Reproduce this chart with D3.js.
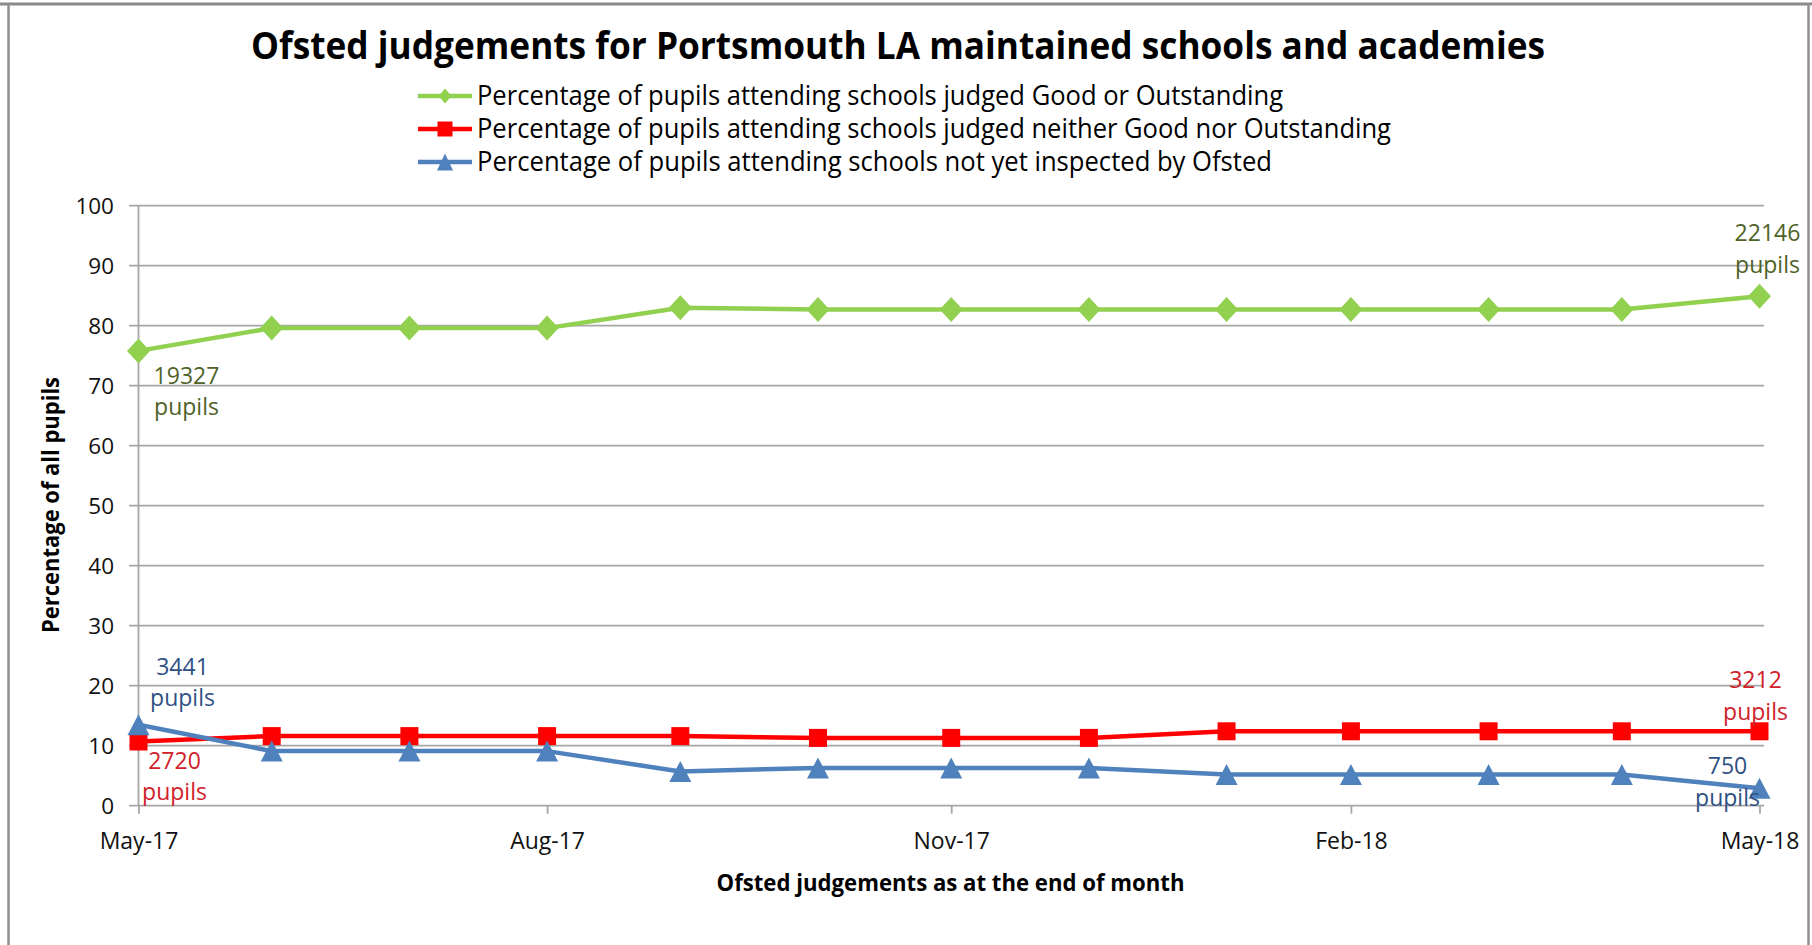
<!DOCTYPE html>
<html>
<head>
<meta charset="utf-8">
<script src="https://cdn.jsdelivr.net/npm/d3@7"></script>
<style>
  html, body { margin: 0; padding: 0; background: #fff; }
  svg { display: block; font-family: "Open Sans", "DejaVu Sans", sans-serif; }
</style>
</head>
<body>
<svg id="chart" width="1812" height="945"></svg>
<script>
// ---------- DATA ----------
const months = ["2017-05-31","2017-06-30","2017-07-31","2017-08-31","2017-09-30","2017-10-31",
                "2017-11-30","2017-12-31","2018-01-31","2018-02-28","2018-03-31","2018-04-30","2018-05-31"];
const goodOrOutstanding = [75.8, 79.6, 79.6, 79.6, 83.0, 82.7, 82.7, 82.7, 82.7, 82.7, 82.7, 82.7, 84.9];
const neitherGood       = [10.7, 11.6, 11.6, 11.6, 11.6, 11.3, 11.3, 11.3, 12.4, 12.4, 12.4, 12.4, 12.4];
const notYetInspected   = [13.5, 9.1, 9.1, 9.1, 5.7, 6.3, 6.3, 6.3, 5.2, 5.2, 5.2, 5.2, 2.9];

const seriesNames = [
  "Percentage of pupils attending schools judged Good or Outstanding",
  "Percentage of pupils attending schools judged neither Good nor Outstanding",
  "Percentage of pupils attending schools not yet inspected by Ofsted"
];
const firstLabels = [["19327","pupils"], ["2720","pupils"], ["3441","pupils"]];
const lastLabels  = [["22146","pupils"], ["3212","pupils"], ["750","pupils"]];

const xTickDates  = ["2017-05-31","2017-08-31","2017-11-30","2018-02-28","2018-05-31"];
const xTickLabels = ["May-17","Aug-17","Nov-17","Feb-18","May-18"];
const yTicks = [0,10,20,30,40,50,60,70,80,90,100];

const titleText = "Ofsted judgements for Portsmouth LA maintained schools and academies";
const xTitle = "Ofsted judgements as at the end of month";
const yTitle = "Percentage of all pupils";

// ---------- STYLE ----------
const colors = ["#92D050", "#FF0000", "#4F81BD"];
const labelColors = ["#4F6228", "#D0222A", "#2F5183"];
const markers = ["diamond", "square", "triangle"];
// label offsets relative to anchor point: [dx, dyLine1]; line 2 sits one line below
const lineGap = 31.5;
const firstOff = [[48, 33], [36, 27], [44, -50]];
const lastOff  = [[8, -55], [-4, -43], [-32, -14]];

const svg = d3.select("#chart");
const parse = d3.utcParse("%Y-%m-%d");
const dates = months.map(parse);

const x = d3.scaleUtc().domain([dates[0], dates[dates.length-1]]).range([138.5, 1759.5]);
const y = d3.scaleLinear().domain([0, 100]).range([805.7, 205.7]);

function markerPath(type, w, h) {
  const a = w/2, b = h/2;
  if (type === "diamond") return `M0,${-b}L${a},0L0,${b}L${-a},0Z`;
  if (type === "square") return `M${-a},${-b}H${a}V${b}H${-a}Z`;
  return `M0,${-b}L${a},${b}L${-a},${b}Z`;
}
const markerSize = { diamond: [23, 25], square: [18, 18], triangle: [22, 21] };
const legendMarkerSize = { diamond: [13, 15], square: [15, 15], triangle: [16, 17] };

// ---------- FRAME ----------
svg.append("line").attr("x1", 0).attr("x2", 1812).attr("y1", 4).attr("y2", 4)
  .attr("stroke", "#8a8a8a").attr("stroke-width", 3);
svg.append("line").attr("x1", 8.5).attr("x2", 8.5).attr("y1", 4).attr("y2", 945)
  .attr("stroke", "#8e8e8e").attr("stroke-width", 2.5);
svg.append("line").attr("x1", 1808.5).attr("x2", 1808.5).attr("y1", 4).attr("y2", 945)
  .attr("stroke", "#8e8e8e").attr("stroke-width", 2.5);

// ---------- TITLE ----------
svg.append("text").attr("x", 898).attr("y", 59)
  .attr("text-anchor", "middle").attr("font-weight", "bold").attr("font-size", 37)
  .attr("textLength", 1294).attr("lengthAdjust", "spacingAndGlyphs")
  .attr("fill", "#000").text(titleText);

// ---------- LEGEND ----------
const legendWidths = [806, 914, 795];
const legend = svg.append("g");
seriesNames.forEach((name, i) => {
  const cy = 96 + i * 33;
  legend.append("line").attr("x1", 418).attr("x2", 472).attr("y1", cy).attr("y2", cy)
    .attr("stroke", colors[i]).attr("stroke-width", 4.5);
  const s = legendMarkerSize[markers[i]];
  legend.append("path").attr("transform", `translate(445,${cy})`)
    .attr("d", markerPath(markers[i], s[0], s[1])).attr("fill", colors[i]);
  legend.append("text").attr("x", 477).attr("y", cy + 8.5)
    .attr("font-size", 26.5).attr("fill", "#000")
    .attr("textLength", legendWidths[i]).attr("lengthAdjust", "spacingAndGlyphs")
    .text(name);
});

// ---------- GRID ----------
svg.append("g").selectAll("line").data(yTicks).join("line")
  .attr("x1", 129).attr("x2", 1764)
  .attr("y1", d => y(d)).attr("y2", d => y(d))
  .attr("stroke", "#a6a6a6").attr("stroke-width", 1.8);

// vertical axis line
svg.append("line").attr("x1", 138.5).attr("x2", 138.5).attr("y1", y(100)).attr("y2", y(0))
  .attr("stroke", "#a6a6a6").attr("stroke-width", 1.8);

// ---------- AXES ----------
const yAxis = svg.append("g").attr("transform", "translate(138.5,0)")
  .call(d3.axisLeft(y).tickValues(yTicks).tickSize(0).tickPadding(24.5));
yAxis.select(".domain").remove();
yAxis.selectAll("text").attr("font-size", 22.5).attr("fill", "#111")
  .attr("font-family", "'Open Sans', sans-serif").attr("dy", "0.36em");

const tickDates = xTickDates.map(parse);
const xAxis = svg.append("g").attr("transform", `translate(0,${y(0)})`)
  .call(d3.axisBottom(x).tickValues(tickDates).tickSize(8).tickPadding(19)
    .tickFormat((d, i) => xTickLabels[i]));
xAxis.select(".domain").remove();
xAxis.selectAll("line").attr("stroke", "#a6a6a6").attr("stroke-width", 1.8);
xAxis.selectAll("text").attr("font-size", 23).attr("fill", "#111")
  .attr("font-family", "'Open Sans', sans-serif");

// axis titles
svg.append("text").attr("x", 950.5).attr("y", 890.5)
  .attr("text-anchor", "middle").attr("font-weight", "bold").attr("font-size", 24)
  .attr("textLength", 468).attr("lengthAdjust", "spacingAndGlyphs")
  .attr("fill", "#000").text(xTitle);
svg.append("text").attr("transform", "translate(58.5,505) rotate(-90)")
  .attr("text-anchor", "middle").attr("font-weight", "bold").attr("font-size", 24)
  .attr("textLength", 256).attr("lengthAdjust", "spacingAndGlyphs")
  .attr("fill", "#000").text(yTitle);

// ---------- SERIES ----------
const allSeries = [goodOrOutstanding, neitherGood, notYetInspected];
const line = d3.line().x(d => x(d.date)).y(d => y(d.value));
allSeries.forEach((vals, i) => {
  const pts = vals.map((v, j) => ({ date: dates[j], value: v }));
  const g = svg.append("g");
  g.append("path").datum(pts).attr("d", line)
    .attr("fill", "none").attr("stroke", colors[i]).attr("stroke-width", 4.5)
    .attr("stroke-linejoin", "round");
  const s = markerSize[markers[i]];
  g.selectAll("path.m").data(pts).join("path").attr("class", "m")
    .attr("transform", d => `translate(${x(d.date)},${y(d.value)})`)
    .attr("d", markerPath(markers[i], s[0], s[1])).attr("fill", colors[i]);
});

// ---------- DATA LABELS ----------
allSeries.forEach((vals, i) => {
  const n = vals.length - 1;
  [[0, firstLabels[i], firstOff[i]], [n, lastLabels[i], lastOff[i]]].forEach(([j, lines, off]) => {
    const px = x(dates[j]), py = y(vals[j]);
    const t = svg.append("text").attr("text-anchor", "middle")
      .attr("font-size", 23).attr("fill", labelColors[i]);
    t.append("tspan").attr("x", px + off[0]).attr("y", py + off[1]).text(lines[0]);
    t.append("tspan").attr("x", px + off[0]).attr("y", py + off[1] + lineGap).text(lines[1]);
  });
});
</script>
</body>
</html>
